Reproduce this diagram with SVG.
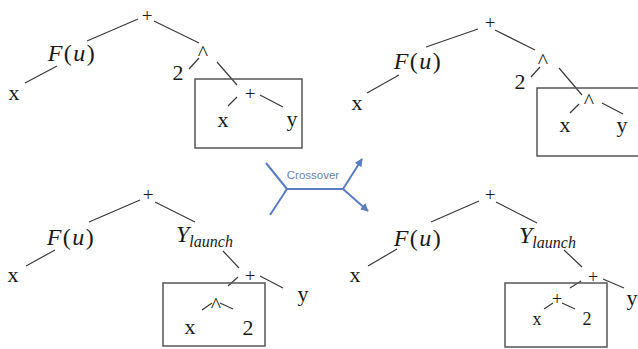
<svg xmlns="http://www.w3.org/2000/svg" width="638" height="349" viewBox="0 0 638 349">
<style>
.t{font-family:"Liberation Serif","Times New Roman",serif;font-size:22px;fill:#1a1a1a;text-anchor:middle}
.op{font-size:19px}
.sm{font-size:18px}
.m{font-family:"Liberation Serif","Times New Roman",serif;font-size:24px;fill:#1a1a1a;letter-spacing:1.5px}
.i{font-style:italic}
.e line{stroke:#3a3a3a;stroke-width:1.2}
.box{fill:none;stroke:#555;stroke-width:1.5}
.cx{fill:none;stroke:#5a7cc0;stroke-width:2;stroke-linejoin:round}
.ct{font-family:"Liberation Sans",Arial,sans-serif;font-size:11.5px;fill:#6a7fae;text-anchor:middle}
</style>
<defs>
<marker id="ah" viewBox="0 0 10 10" refX="9" refY="5" markerWidth="4" markerHeight="4" orient="auto">
<path d="M0,0 L10,5 L0,10 z" fill="#5a7cc0"/>
</marker>
</defs>
<rect width="638" height="349" fill="#fff"/>

<g id="connectors" class="e">
<line x1="138" y1="19" x2="87" y2="41"/>
<line x1="154" y1="21" x2="199" y2="43"/>
<line x1="57" y1="66" x2="25" y2="83"/>
<line x1="199" y1="58" x2="189" y2="69"/>
<line x1="217" y1="62" x2="237" y2="85"/>
<line x1="237" y1="97" x2="228" y2="106"/>
<line x1="260" y1="95" x2="283" y2="107"/>
<line x1="478" y1="29" x2="426" y2="47"/>
<line x1="495" y1="30" x2="535" y2="50"/>
<line x1="399" y1="75" x2="367" y2="93"/>
<line x1="540" y1="67" x2="531" y2="77"/>
<line x1="559" y1="68" x2="582" y2="95"/>
<line x1="579" y1="104" x2="570" y2="113"/>
<line x1="602" y1="103" x2="623" y2="114"/>
<line x1="140" y1="200" x2="89" y2="222"/>
<line x1="155" y1="202" x2="195" y2="222"/>
<line x1="55" y1="250" x2="26" y2="266"/>
<line x1="223" y1="251" x2="239" y2="268"/>
<line x1="238" y1="277" x2="228" y2="286"/>
<line x1="260" y1="276" x2="283" y2="288"/>
<line x1="212" y1="303" x2="202" y2="310"/>
<line x1="220" y1="303" x2="233" y2="309"/>
<line x1="479" y1="201" x2="431" y2="222"/>
<line x1="496" y1="202" x2="537" y2="223"/>
<line x1="397" y1="249" x2="368" y2="266"/>
<line x1="564" y1="250" x2="582" y2="267"/>
<line x1="581" y1="281" x2="570" y2="288"/>
<line x1="603" y1="279" x2="624" y2="288"/>
<line x1="553" y1="303" x2="544" y2="309"/>
<line x1="562" y1="303" x2="575" y2="309"/>
</g>

<g id="boxes">
<rect class="box" x="195" y="79" width="107" height="69"/>
<rect class="box" x="537" y="88" width="110" height="68"/>
<rect class="box" x="163" y="283" width="102" height="63"/>
<rect class="box" x="505" y="283" width="102" height="64"/>
</g>

<g id="tree-top-left">
<text class="t op" x="147" y="22">+</text>
<text class="m" x="72" y="61" text-anchor="middle"><tspan class="i">F</tspan>(<tspan class="i">u</tspan>)</text>
<text class="t" x="14" y="100">x</text>
<text class="t" x="203" y="60">^</text>
<text class="t" x="178" y="80">2</text>
<text class="t op" x="250" y="100">+</text>
<text class="t" x="223" y="127">x</text>
<text class="t" x="292" y="126">y</text>
</g>

<g id="tree-top-right">
<text class="t op" x="490" y="29">+</text>
<text class="m" x="418" y="69" text-anchor="middle"><tspan class="i">F</tspan>(<tspan class="i">u</tspan>)</text>
<text class="t" x="357" y="110">x</text>
<text class="t" x="543" y="68">^</text>
<text class="t" x="520" y="89">2</text>
<text class="t" x="589" y="108">^</text>
<text class="t" x="565" y="132">x</text>
<text class="t" x="622" y="132">y</text>
</g>

<g id="tree-bottom-left">
<text class="t op" x="148" y="201">+</text>
<text class="m" x="71" y="245" text-anchor="middle"><tspan class="i">F</tspan>(<tspan class="i">u</tspan>)</text>
<text class="t" x="13" y="282">x</text>
<text class="m i" x="176" y="242" style="letter-spacing:0">Y<tspan font-size="16" dy="5">launch</tspan></text>
<text class="t op" x="250" y="282">+</text>
<text class="t" x="303" y="301">y</text>
<text class="t" x="216" y="312">^</text>
<text class="t" x="190" y="334">x</text>
<text class="t" x="248" y="335">2</text>
</g>

<g id="tree-bottom-right">
<text class="t op" x="490" y="201">+</text>
<text class="m" x="418" y="246" text-anchor="middle"><tspan class="i">F</tspan>(<tspan class="i">u</tspan>)</text>
<text class="t" x="355" y="282">x</text>
<text class="m i" x="519" y="243" style="letter-spacing:0">Y<tspan font-size="16" dy="5">launch</tspan></text>
<text class="t sm" x="593" y="283">+</text>
<text class="t" x="632" y="305">y</text>
<text class="t sm" x="557" y="305">+</text>
<text class="t sm" x="537" y="325">x</text>
<text class="t sm" x="587" y="325">2</text>
</g>

<g id="crossover">
<path class="cx" d="M266,163 L287,189 L270,215"/>
<path class="cx" d="M287,189 L343,189"/>
<path class="cx" d="M343,189 L362,159" marker-end="url(#ah)"/>
<path class="cx" d="M343,189 L368,211" marker-end="url(#ah)"/>
<text class="ct" x="313" y="179">Crossover</text>
</g>
</svg>
